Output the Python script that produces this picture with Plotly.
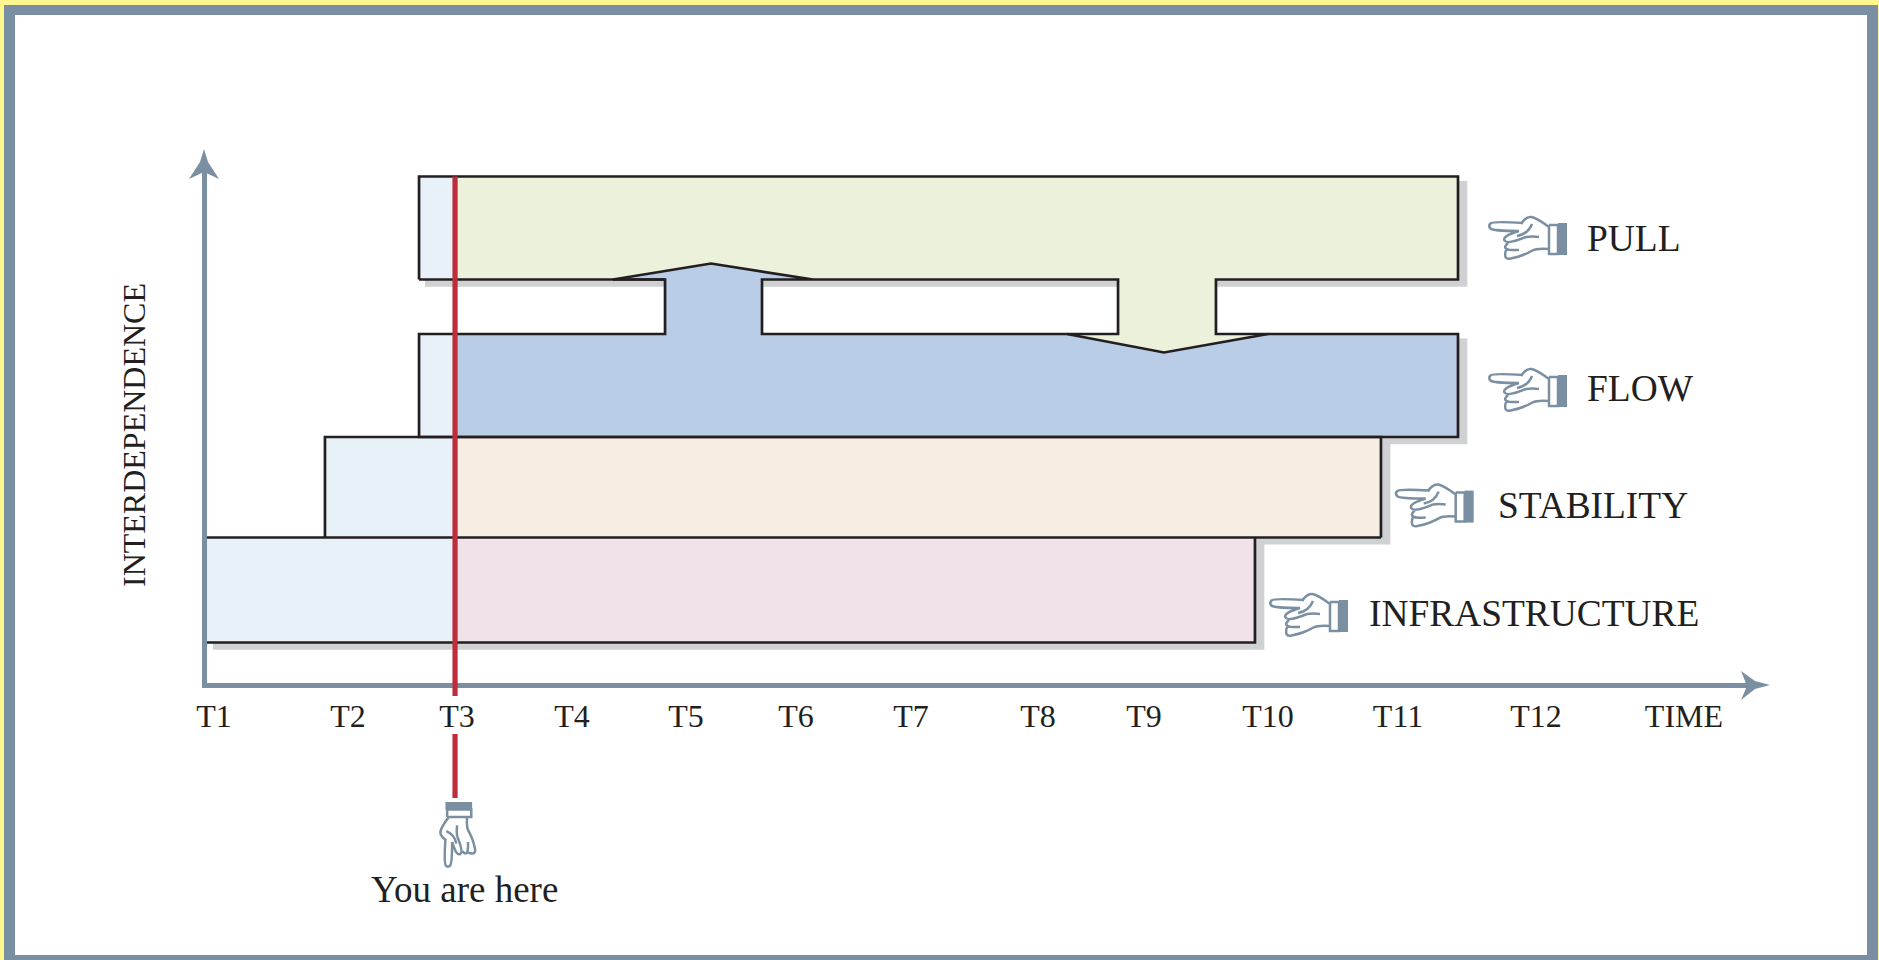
import plotly.graph_objects as go

# Step 1: values
# time is in T units (the printed ticks are not evenly spaced), level is in plain interdependence units
tick_labels = ["T1", "T2", "T3", "T4", "T5", "T6", "T7", "T8", "T9", "T10", "T11", "T12", "TIME"]
tick_times = [1.008, 2.125, 3.033, 3.991, 4.941, 5.858, 6.817, 7.875, 8.758, 9.792, 10.875, 12.025, 13.258]

band_names = ["INFRASTRUCTURE", "STABILITY", "FLOW", "PULL"]
band_start = [0.95, 1.933, 2.717, 2.717]
band_end = [9.683, 10.733, 11.375, 11.375]
band_low = [0.814, 2.873, 4.843, 7.931]
band_high = [2.873, 4.843, 6.863, 9.951]

now_time = 3.017

# arrow between FLOW and PULL going up: barb, stem, tip, stem, barb
up_arrow_time = [4.333, 4.767, 5.15, 5.575, 6.0]
up_arrow_tip = 8.245
# arrow from PULL into FLOW going down
down_arrow_time = [8.117, 8.542, 8.925, 9.358, 9.792]
down_arrow_tip = 6.5

# Step 2: page geometry and styles
W, H = 1879, 960
L, R, T, B = 207, 1750, 172, 683
X_RANGE = [0.95, 0.95 + (R - L) / 120]
Y_RANGE = [1 / 51, 1 / 51 + (B - T) / 51]

INK = "#231F20"
SLATE = "#7A8FA1"
YELLOW = "#FFF68F"
RED = "#BE2D3B"
PAST = "#E8F1F7"
SHADOW = "#CFD1D3"
band_colors = ["#F1E1E9", "#F6EDE3", "#B9CDE7", "#ECF1DC"]
SERIF = "Liberation Serif"


def px(x):
    return (x - L) / (R - L)


def py(y):
    return (B - y) / (B - T)


def rect(x0, y0, x1, y1, color):
    return dict(type="rect", xref="paper", yref="paper", x0=px(x0), x1=px(x1), y0=py(y0), y1=py(y1),
                fillcolor=color, line_width=0, layer="below")


def poly(points, color):
    path = "M" + " L".join(f"{px(x):.5f},{py(y):.5f}" for x, y in points) + " Z"
    return dict(type="path", xref="paper", yref="paper", path=path, fillcolor=color, line_width=0)


# hand outline strokes, traced in an 85x50 box with the finger pointing left
hand_strokes = [
    [(38, 11), (8, 9), (3, 14), (8, 19), (34, 19)],
    [(36, 12), (41, 4), (52, 6), (64, 15)],
    [(47, 12), (43, 22), (32, 24)],
    [(34, 19), (17, 24), (22, 33), (41, 25)],
    [(41, 25), (47, 24), (54, 25)],
    [(23, 31), (14, 39), (34, 38)],
    [(21, 38), (18, 48), (33, 45), (43, 41), (52, 36), (64, 37)],
]
hand_cuff_box = [(64, 13), (73, 13), (73, 42), (64, 42), (64, 13)]
hand_cuff = [(73, 11), (82, 11), (82, 43), (73, 43)]


def curve_path(pts, move):
    out = f"M{move(*pts[0])}"
    for i in range(1, len(pts) - 1):
        cx, cy = pts[i]
        nx, ny = pts[i + 1]
        if i < len(pts) - 2:
            nx, ny = (cx + nx) / 2, (cy + ny) / 2
        out += f" Q{move(cx, cy)} {move(nx, ny)}"
    return out


def hand(ox, oy, down=False, scale=1.0):
    if down:
        def tr(u, v):
            return ox + v * scale, oy - u * scale
    else:
        def tr(u, v):
            return ox + u * scale, oy + v * scale

    def move(u, v):
        x, y = tr(u, v)
        return f"{px(x):.5f},{py(y):.5f}"

    strokes = " ".join(curve_path(s, move) for s in hand_strokes)
    strokes += " M" + " L".join(move(*p) for p in hand_cuff_box)
    return [
        poly([tr(*p) for p in hand_cuff], SLATE),
        dict(type="path", xref="paper", yref="paper", path=strokes, line=dict(color=SLATE, width=2.5)),
    ]


# Step 3: build the figure
fig = go.Figure()


def fill(xs, ys, color):
    fig.add_trace(go.Scatter(x=xs, y=ys, mode="lines", fill="toself", fillcolor=color,
                             line=dict(width=0), hoverinfo="skip", showlegend=False))


def box(x0, x1, y0, y1, color):
    fill([x0, x1, x1, x0, x0], [y0, y0, y1, y1, y0], color)


# soft shadows first
for s, e, lo, hi in zip(band_start, band_end, band_low, band_high):
    box(s + 0.05, e + 0.078, lo - 0.14, hi - 0.088, SHADOW)

# band bodies
for s, e, lo, hi, color in zip(band_start, band_end, band_low, band_high, band_colors):
    box(s, e, lo, hi, color)
    box(s, now_time, lo, hi, PAST)

flow_high = band_high[2]
pull_low = band_low[3]
overlap = 0.2  # stems run a little into their own band so no seam shows

# the two connecting arrows, filled in the colour of the band they come from
fill([up_arrow_time[1], up_arrow_time[1], up_arrow_time[0], up_arrow_time[2], up_arrow_time[4],
      up_arrow_time[3], up_arrow_time[3]],
     [flow_high - overlap, pull_low, pull_low, up_arrow_tip, pull_low, pull_low, flow_high - overlap], band_colors[2])
fill([down_arrow_time[1], down_arrow_time[1], down_arrow_time[0], down_arrow_time[2], down_arrow_time[4],
      down_arrow_time[3], down_arrow_time[3]],
     [pull_low + overlap, flow_high, flow_high, down_arrow_tip, flow_high, flow_high, pull_low + overlap], band_colors[3])

# outlines
s_i, s_s, s_f = band_start[0], band_start[1], band_start[2]
e_i, e_s, e_f = band_end[0], band_end[1], band_end[2]
outline_x = [
    s_f, s_f, e_f, e_f, down_arrow_time[3], down_arrow_time[3], e_f, e_f, s_f, s_f,
    up_arrow_time[1], up_arrow_time[1], up_arrow_time[0], None,
    s_f, up_arrow_time[1], None,
    up_arrow_time[0], up_arrow_time[2], up_arrow_time[4], up_arrow_time[3], up_arrow_time[3],
    down_arrow_time[1], down_arrow_time[1], up_arrow_time[3], None,
    down_arrow_time[0], down_arrow_time[2], down_arrow_time[4], None,
    s_s, s_s, e_s, e_s, None,
    s_i, e_s, None,
    s_i, e_i, e_i,
]
outline_y = [
    pull_low, band_high[3], band_high[3], pull_low, pull_low, flow_high, flow_high, band_low[2], band_low[2], flow_high,
    flow_high, pull_low, pull_low, None,
    pull_low, pull_low, None,
    pull_low, up_arrow_tip, pull_low, pull_low, flow_high,
    flow_high, pull_low, pull_low, None,
    flow_high, down_arrow_tip, flow_high, None,
    band_high[0], band_high[1], band_high[1], band_high[0], None,
    band_high[0], band_high[0], None,
    band_low[0], band_low[0], band_high[0],
]
fig.add_trace(go.Scatter(x=outline_x, y=outline_y, mode="lines", line=dict(color=INK, width=2.7),
                         hoverinfo="skip", showlegend=False))

# the "you are here" marker inside the plot
fig.add_trace(go.Scatter(x=[now_time, now_time], y=[band_high[3], Y_RANGE[0]],
                         mode="lines", line=dict(color=RED, width=5.2),
                         hoverinfo="skip", showlegend=False))

# Step 4: frame, axis arrowheads and hands
shapes = [
    rect(0, 0, W, 5, YELLOW), rect(0, 0, 4, H, YELLOW),
    rect(1878, 0, W, H, YELLOW),
    rect(4, 5, W - 1, 15, SLATE), rect(4, 5, 15, H, SLATE),
    rect(1867, 5, W - 1, H, SLATE), rect(4, 955, W - 1, H, SLATE),
    poly([(204, 149), (208, 162), (219, 179), (204, 172), (189, 179), (200, 162)], SLATE),
    poly([(1770, 685), (1755, 689), (1741, 700), (1747, 686), (1741, 671), (1755, 681)], SLATE),
]
# the marker carries on below the axis, broken around the T3 label
for y0, y1 in [(683, 696), (734, 798)]:
    shapes.append(dict(type="line", xref="x", yref="paper", x0=now_time, x1=now_time, y0=py(y0), y1=py(y1),
                       line=dict(color=RED, width=5.2)))
shapes += hand(1485, 212)
shapes += hand(1485, 364)
shapes += hand(1391.7, 479.6)
shapes += hand(1266, 589)
# the pointing hand under the marker
shapes += hand(436.3, 870.3, down=True, scale=0.833)

label_x = [1367, 1496, 1585, 1585]
label_y = [613, 505, 388, 238]
annotations = [
    dict(text=name, xref="paper", yref="paper", x=px(x), y=py(y), xanchor="left", yanchor="middle",
         showarrow=False, font=dict(family=SERIF, size=37.4, color=INK))
    for name, x, y in zip(band_names, label_x, label_y)
]
annotations.append(dict(text="You are here", xref="paper", yref="paper", x=px(464), y=py(889),
                        xanchor="center", yanchor="middle", showarrow=False,
                        font=dict(family=SERIF, size=37, color=INK)))
annotations.append(dict(text="INTERDEPENDENCE", xref="paper", yref="paper", x=px(134), y=py(435),
                        xanchor="center", yanchor="middle", textangle=-90, showarrow=False,
                        font=dict(family=SERIF, size=32, color=INK)))

# Step 5: final formatting
fig.update_layout(
    width=W,
    height=H,
    margin=dict(l=L, r=W - R, t=T, b=H - B, autoexpand=False),
    paper_bgcolor="white",
    plot_bgcolor="white",
    showlegend=False,
    shapes=shapes,
    annotations=annotations,
    xaxis=dict(
        range=X_RANGE,
        tickmode="array",
        tickvals=tick_times,
        ticktext=tick_labels,
        tickangle=0,
        ticks="",
        ticklabelstandoff=1,
        tickfont=dict(family=SERIF, size=32, color=INK),
        showgrid=False,
        zeroline=False,
        showline=True,
        linecolor=SLATE,
        linewidth=5,
        layer="below traces",
    ),
    yaxis=dict(
        range=Y_RANGE,
        showticklabels=False,
        ticks="",
        showgrid=False,
        zeroline=False,
        showline=True,
        linecolor=SLATE,
        linewidth=5,
        layer="below traces",
    ),
)

fig.write_html("out.html", config=dict(displayModeBar=False),
               post_script="document.body.style.margin='0';document.body.style.overflow='hidden';")
